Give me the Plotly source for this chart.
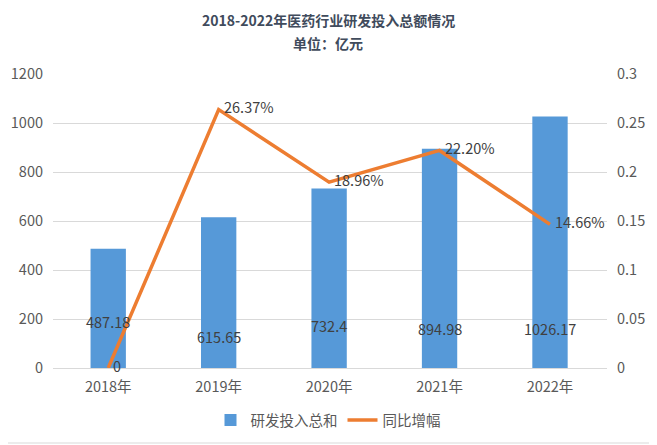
import plotly.graph_objects as go

years = ["2018年", "2019年", "2020年", "2021年", "2022年"]
rd_total = [487.18, 615.65, 732.4, 894.98, 1026.17]
yoy = [0, 0.2637, 0.1896, 0.2220, 0.1466]
yoy_labels = ["0", "26.37%", "18.96%", "22.20%", "14.66%"]
bar_label_y = [188, 127, 172, 163, 163]

# page is offset by the browser's 8px body margin; lay out in window coords minus OFF
OFF = 8
W, H = 657 - OFF, 445 - OFF
ml, mt = 53 - OFF, 74 - OFF
plot_r, plot_b = 607 - OFF, 368 - OFF
mr, mb = W - plot_r, H - plot_b
pw, ph = W - ml - mr, H - mt - mb
FONT = "Noto Sans CJK SC"
FS = 14.5


def px_x(x):  # window x -> paper x
    return (x - OFF - ml) / pw


def px_y(y):  # window y -> paper y
    return (plot_b - (y - OFF)) / ph


fig = go.Figure()
fig.add_trace(go.Bar(
    x=years, y=rd_total, name="研发投入总和",
    marker=dict(color="#5699d8", line=dict(width=0)),
    yaxis="y", hoverinfo="skip"))
fig.add_trace(go.Scatter(
    x=years, y=yoy, name="同比增幅", mode="lines",
    line=dict(color="#ed7d31", width=3.5),
    yaxis="y2", hoverinfo="skip"))

annotations = []
for x, v, ly in zip(years, rd_total, bar_label_y):
    annotations.append(dict(x=x, y=ly, xref="x", yref="y", text=f"{v:g}",
                            showarrow=False, font=dict(size=FS, color="#404040", family=FONT)))
for x, v, t in zip(years, yoy, yoy_labels):
    annotations.append(dict(x=x, y=v, xref="x", yref="y2", text=t, showarrow=False,
                            xanchor="left", yanchor="middle", xshift=3, yshift=3,
                            font=dict(size=FS, color="#404040", family=FONT)))
annotations.append(dict(xref="paper", yref="paper", x=px_x(328), y=px_y(20),
                        text="<b>2018-2022年医药行业研发投入总额情况</b>", showarrow=False,
                        xanchor="center", yanchor="middle",
                        font=dict(size=14, color="#404b5c", family=FONT)))
annotations.append(dict(xref="paper", yref="paper", x=px_x(328), y=px_y(43),
                        text="<b>单位：亿元</b>", showarrow=False,
                        xanchor="center", yanchor="middle",
                        font=dict(size=14, color="#404b5c", family=FONT)))

fig.update_layout(
    width=W, height=H,
    margin=dict(l=ml, r=mr, t=mt, b=mb, autoexpand=False),
    paper_bgcolor="white", plot_bgcolor="white",
    font=dict(family=FONT, color="#595959", size=12),
    bargap=0.68,
    xaxis=dict(showgrid=False, showline=True, linecolor="#d9d9d9", linewidth=1,
               ticks="", tickfont=dict(size=FS, color="#595959"), ticklabelstandoff=6),
    yaxis=dict(range=[0, 1200], dtick=200, showgrid=True, gridcolor="#d9d9d9",
               zeroline=False, ticks="", tickfont=dict(size=FS, color="#595959"),
               ticklabelstandoff=9),
    yaxis2=dict(range=[0, 0.3], dtick=0.05, overlaying="y", side="right",
                showgrid=False, zeroline=False, ticks="",
                tickfont=dict(size=FS, color="#595959"), ticklabelstandoff=9),
    legend=dict(orientation="h", x=px_x(328), xanchor="center",
                y=px_y(420), yanchor="middle",
                font=dict(size=FS, color="#595959"), itemwidth=30),
    showlegend=True,
    annotations=annotations,
    shapes=[dict(type="rect", xref="paper", yref="paper",
                 x0=px_x(1), x1=px_x(655), y0=px_y(443), y1=px_y(1),
                 line=dict(color="#d9d9d9", width=1), layer="below")],
)
fig.write_html("out.html")
